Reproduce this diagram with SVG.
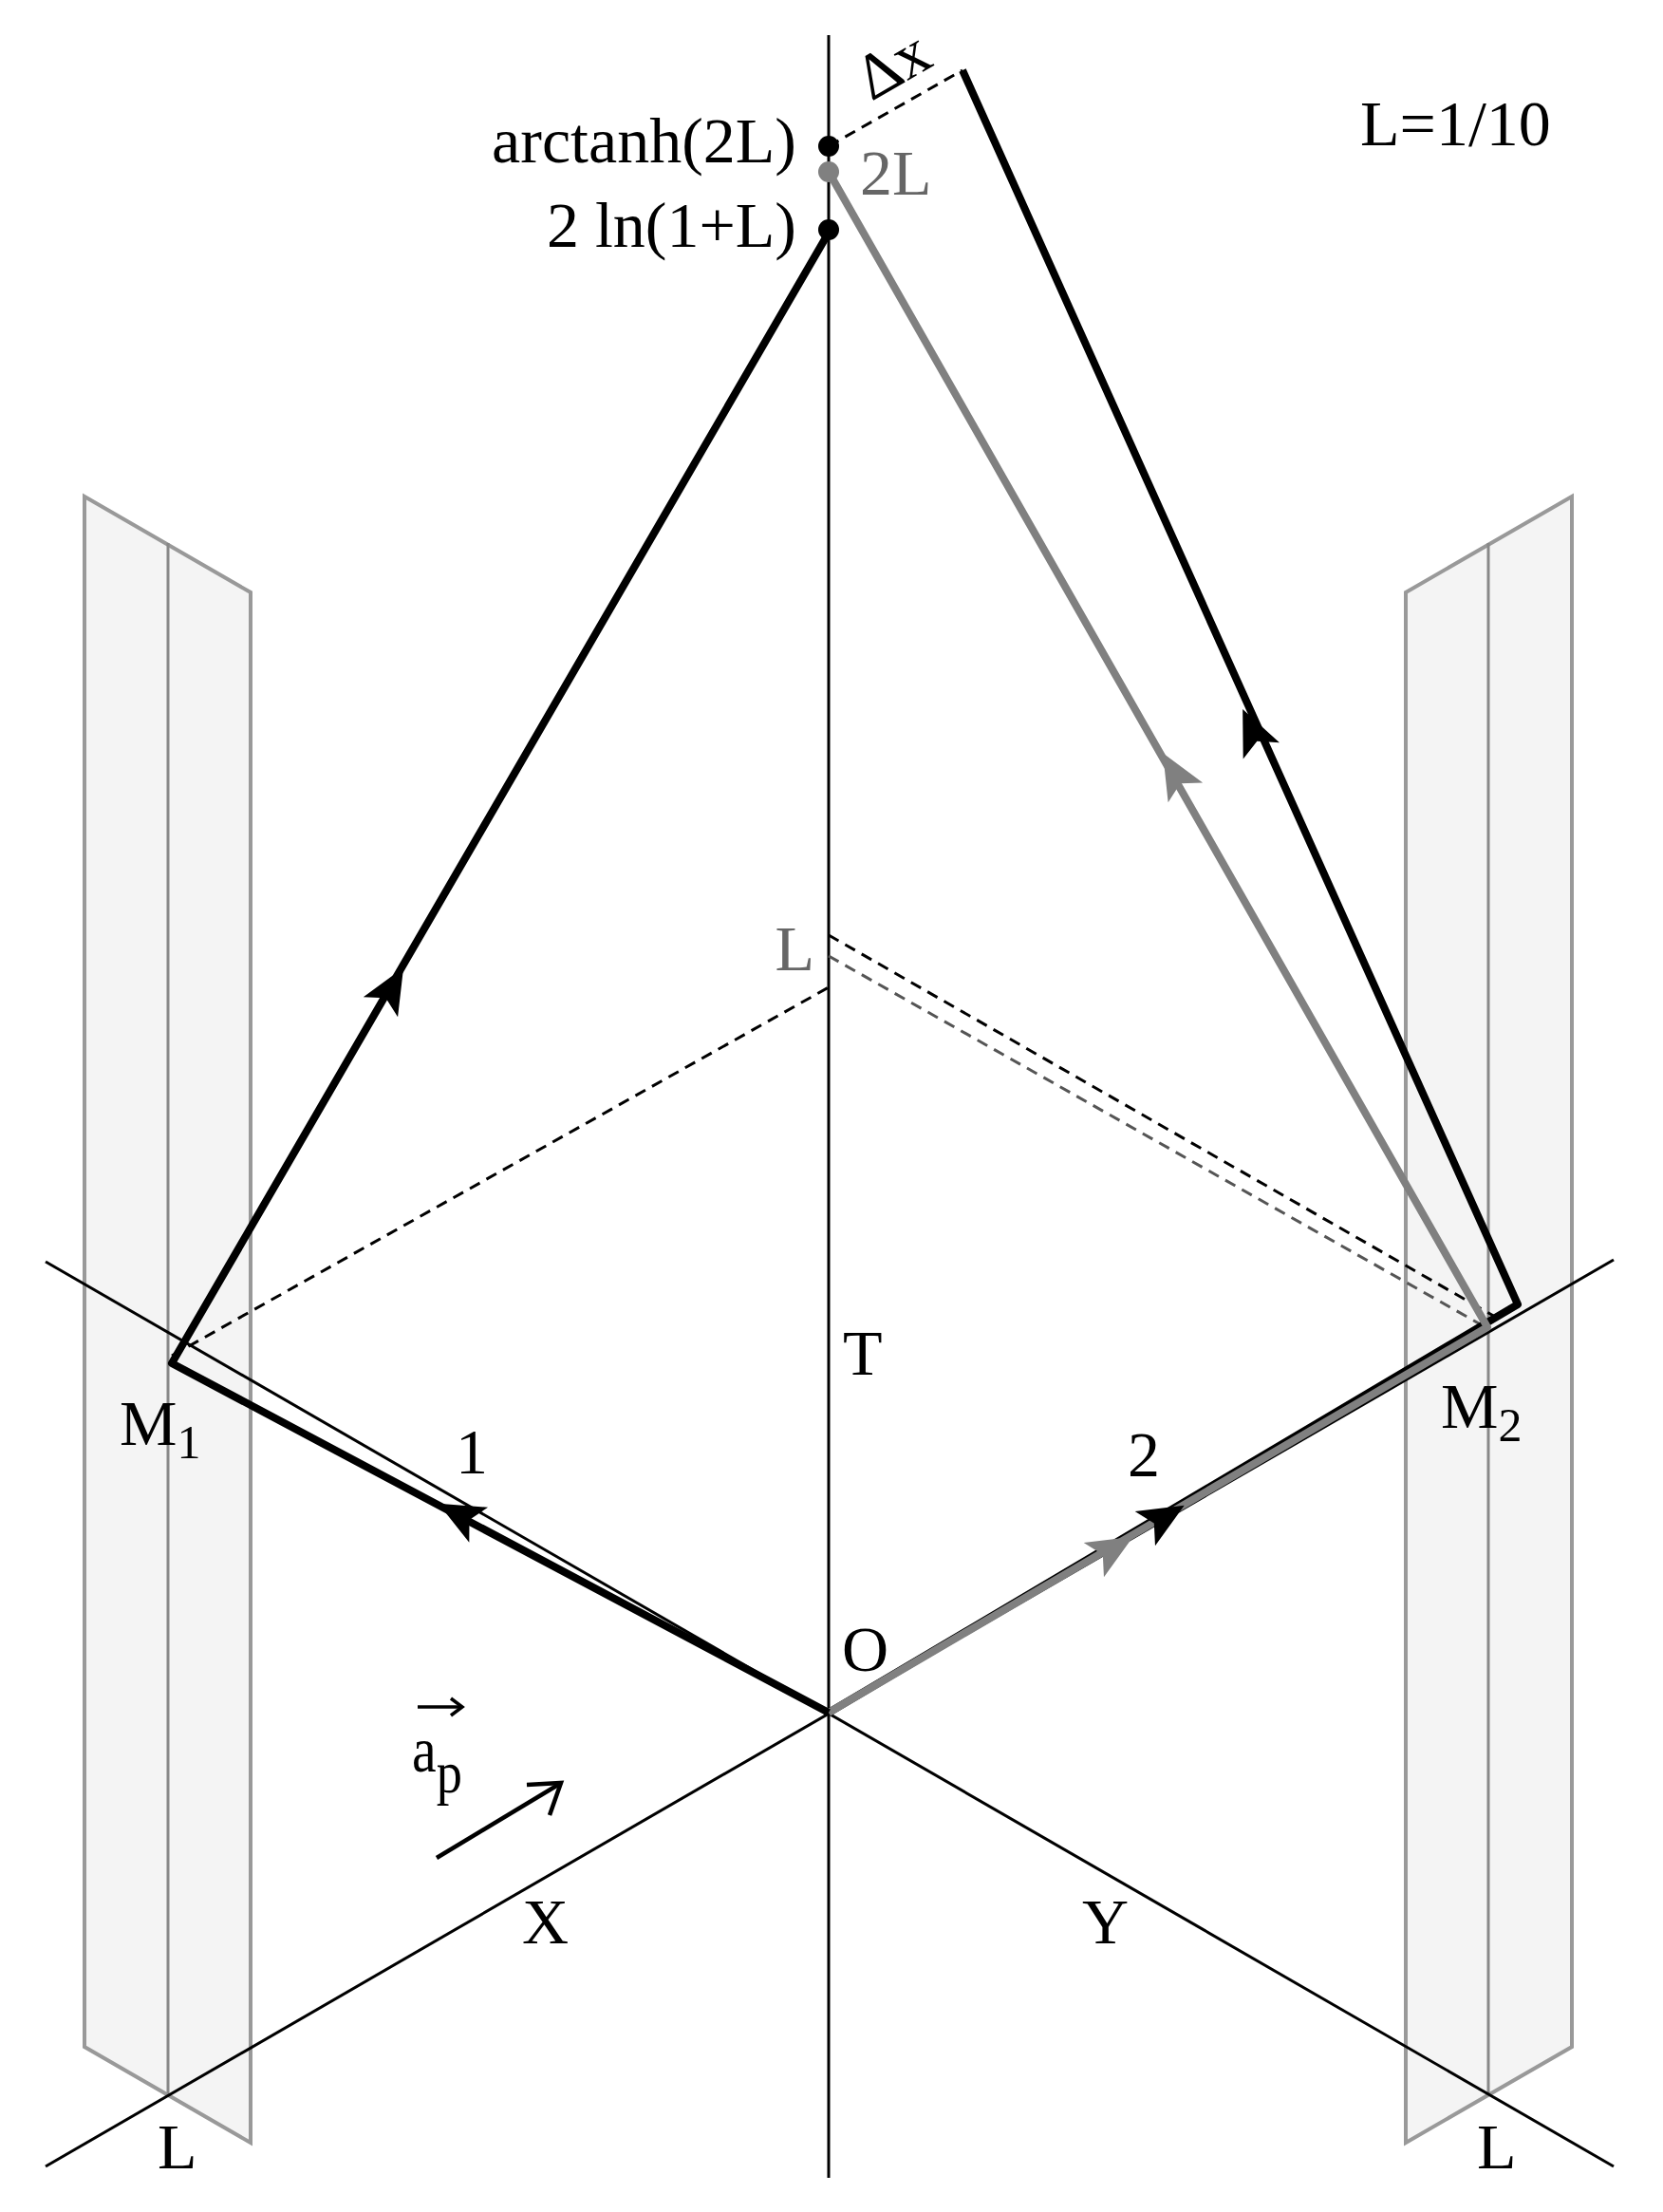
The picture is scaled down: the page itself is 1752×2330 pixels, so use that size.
<svg xmlns="http://www.w3.org/2000/svg" xmlns:xlink="http://www.w3.org/1999/xlink" width="1752" height="2330" viewBox="0 0 1752 2330">
<style>
text{font-family:"Liberation Serif","DejaVu Serif",serif;font-size:68px;fill:#000}
.g{fill:#666}
.ax{stroke:#000;stroke-width:3;fill:none}
.pan{fill:#f4f4f4;stroke:#999;stroke-width:4}
.mid{stroke:#888;stroke-width:3}
.bk{stroke:#000;stroke-width:8;fill:none;stroke-linejoin:round}
.gr{stroke:#808080;stroke-width:8;fill:none;stroke-linejoin:round}
.ds{stroke:#000;stroke-width:3;stroke-dasharray:12,8;fill:none}
.dg{stroke:#555;stroke-width:3;stroke-dasharray:12,8;fill:none}
</style>
<defs><path id="ah" d="M24,0 L-24,-21 L-13,0 L-24,21 z"/></defs>
<rect width="1752" height="2330" fill="#fff"/>
<g id="panels">
<polygon class="pan" points="89,523 264,624 264,2257 89,2156"/>
<line class="mid" x1="177" y1="572" x2="177" y2="2205"/>
<polygon class="pan" points="1481,624 1656,523 1656,2156 1481,2257"/>
<line class="mid" x1="1568" y1="572" x2="1568" y2="2205"/>
</g>
<g id="axes">
<line class="ax" x1="873" y1="37" x2="873" y2="2294"/>
<line class="ax" x1="48" y1="1329" x2="1700" y2="2282"/>
<line class="ax" x1="48" y1="2282" x2="1700" y2="1327"/>
</g>
<g id="connectors">
<line class="ds" x1="181" y1="1428" x2="873" y2="1040"/>
<line class="ds" x1="873" y1="985" x2="1577" y2="1388"/>
<line class="dg" x1="873" y1="1007" x2="1565" y2="1398"/>
<line class="ds" x1="873" y1="154" x2="1014" y2="74"/>
<polyline class="bk" points="873,1804 1599,1374 1014,74"/>
<polyline class="gr" points="873,1804 1567,1398 873,181"/>
<polyline class="bk" points="873,1804 181,1436 873,245"/>
<use href="#ah" transform="translate(483,1595) rotate(208)"/>
<use href="#ah" transform="translate(413,1040) rotate(-59.8)"/>
<use href="#ah" transform="translate(1227,1598) rotate(-30.5)"/>
<use href="#ah" transform="translate(1173,1631) rotate(-30.5)" fill="#808080"/>
<use href="#ah" transform="translate(1237,814) rotate(-119.7)" fill="#808080"/>
<use href="#ah" transform="translate(1319,769) rotate(-114.2)"/>
<line x1="460" y1="1957" x2="588" y2="1880" stroke="#000" stroke-width="4.5"/>
<polyline points="555,1880 591,1878 579,1912" fill="none" stroke="#000" stroke-width="4.5"/>
</g>
<g id="points">
<circle cx="873" cy="154" r="11"/>
<circle cx="873" cy="181" r="11" fill="#808080"/>
<circle cx="873" cy="242" r="11"/>
</g>
<g id="labels">
<text x="839" y="171" text-anchor="end">arctanh(2L)</text>
<text x="839" y="260" text-anchor="end">2 ln(1+L)</text>
<text x="906" y="205" class="g">2L</text>
<text x="1433" y="153">L=1/10</text>
<text x="0" y="0" font-family="DejaVu Sans,sans-serif" font-size="48" transform="translate(918,107) rotate(-30)">Δx</text>
<text x="858" y="1022" text-anchor="end" class="g">L</text>
<text x="888" y="1448">T</text>
<text x="887" y="1760">O</text>
<text x="126" y="1522">M<tspan font-size="50" dy="14">1</tspan></text>
<text x="480" y="1552">1</text>
<text x="1188" y="1555">2</text>
<text x="1518" y="1504">M<tspan font-size="50" dy="14">2</tspan></text>
<text x="550" y="2047">X</text>
<text x="1140" y="2047">Y</text>
<text x="166" y="2284">L</text>
<text x="1556" y="2284">L</text>
<text x="0" y="0" font-size="108" transform="translate(434,1866) scale(0.85,1)">a<tspan font-size="64" dy="22">p</tspan></text>
<line x1="440" y1="1798" x2="486" y2="1798" stroke="#000" stroke-width="3.5"/>
<polyline points="475,1789 487,1798 475,1807" fill="none" stroke="#000" stroke-width="3.5"/>
</g>
</svg>
